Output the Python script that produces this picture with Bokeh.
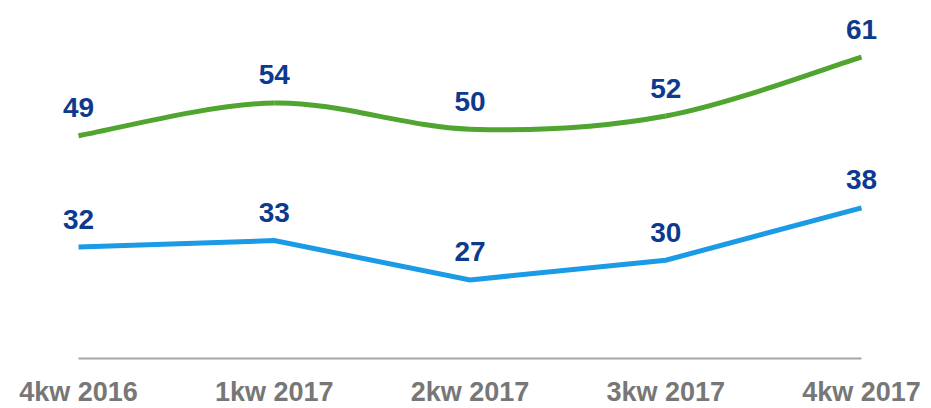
from bokeh.plotting import figure
from bokeh.models import ColumnDataSource, Range1d
from bokeh.core.properties import value
from bokeh.embed import file_html
from bokeh.resources import INLINE

categories = ["4kw 2016", "1kw 2017", "2kw 2017", "3kw 2017", "4kw 2017"]
green_values = [49, 54, 50, 52, 61]
blue_values = [32, 33, 27, 30, 38]
baseline_value = 15

xs = list(range(len(categories)))

p = figure(width=931, height=408, output_backend="svg", toolbar_location=None,
           x_range=Range1d(-0.3985, 4.3576), y_range=Range1d(7.37, 69.64),
           min_border_left=0, min_border_right=0, min_border_top=0, min_border_bottom=0)
p.axis.visible = False
p.grid.visible = False
p.outline_line_color = None
p.background_fill_color = "white"
p.border_fill_color = "white"

# baseline
p.segment(x0=[xs[0]], y0=[baseline_value], x1=[xs[-1]], y1=[baseline_value],
          line_color="#a6a6a6", line_width=2)

# green smoothed line (Catmull-Rom -> bezier)
n = len(xs)
bx0, by0, bx1, by1, cx0, cy0, cx1, cy1 = [], [], [], [], [], [], [], []
for i in range(n - 1):
    xm, ym = (xs[i - 1], green_values[i - 1]) if i > 0 else (xs[i], green_values[i])
    xa, ya = xs[i], green_values[i]
    xb, yb = xs[i + 1], green_values[i + 1]
    xp, yp = (xs[i + 2], green_values[i + 2]) if i + 2 < n else (xb, yb)
    bx0.append(xa); by0.append(ya); bx1.append(xb); by1.append(yb)
    cx0.append(xa + (xb - xm) / 6); cy0.append(ya + (yb - ym) / 6)
    cx1.append(xb - (xp - xa) / 6); cy1.append(yb - (yp - ya) / 6)
gsrc = ColumnDataSource(dict(x0=bx0, y0=by0, x1=bx1, y1=by1,
                             cx0=cx0, cy0=cy0, cx1=cx1, cy1=cy1))
p.bezier(x0="x0", y0="y0", x1="x1", y1="y1", cx0="cx0", cy0="cy0",
         cx1="cx1", cy1="cy1", source=gsrc, line_color="#4fa52f", line_width=5)

# blue line
p.line(xs, blue_values, line_color="#1b9ae6", line_width=5, line_join="miter")

# value labels
label_color = "#0d3a8e"
for vals in (green_values, blue_values):
    src = ColumnDataSource(dict(x=xs, y=vals, t=[str(v) for v in vals]))
    p.text(x="x", y="y", text="t", source=src, text_align="center",
           text_baseline="middle", y_offset=-28, text_font=value("Liberation Sans"),
           text_font_style="bold", text_font_size="28px", text_color=label_color)

# category labels
csrc = ColumnDataSource(dict(x=xs, y=[baseline_value] * n, t=categories))
p.text(x="x", y="y", text="t", source=csrc, text_align="center",
       text_baseline="middle", y_offset=33, text_font=value("Liberation Sans"),
       text_font_style="bold", text_font_size="27px", text_color="#777777")

open("out.html", "w").write(file_html(p, INLINE))
